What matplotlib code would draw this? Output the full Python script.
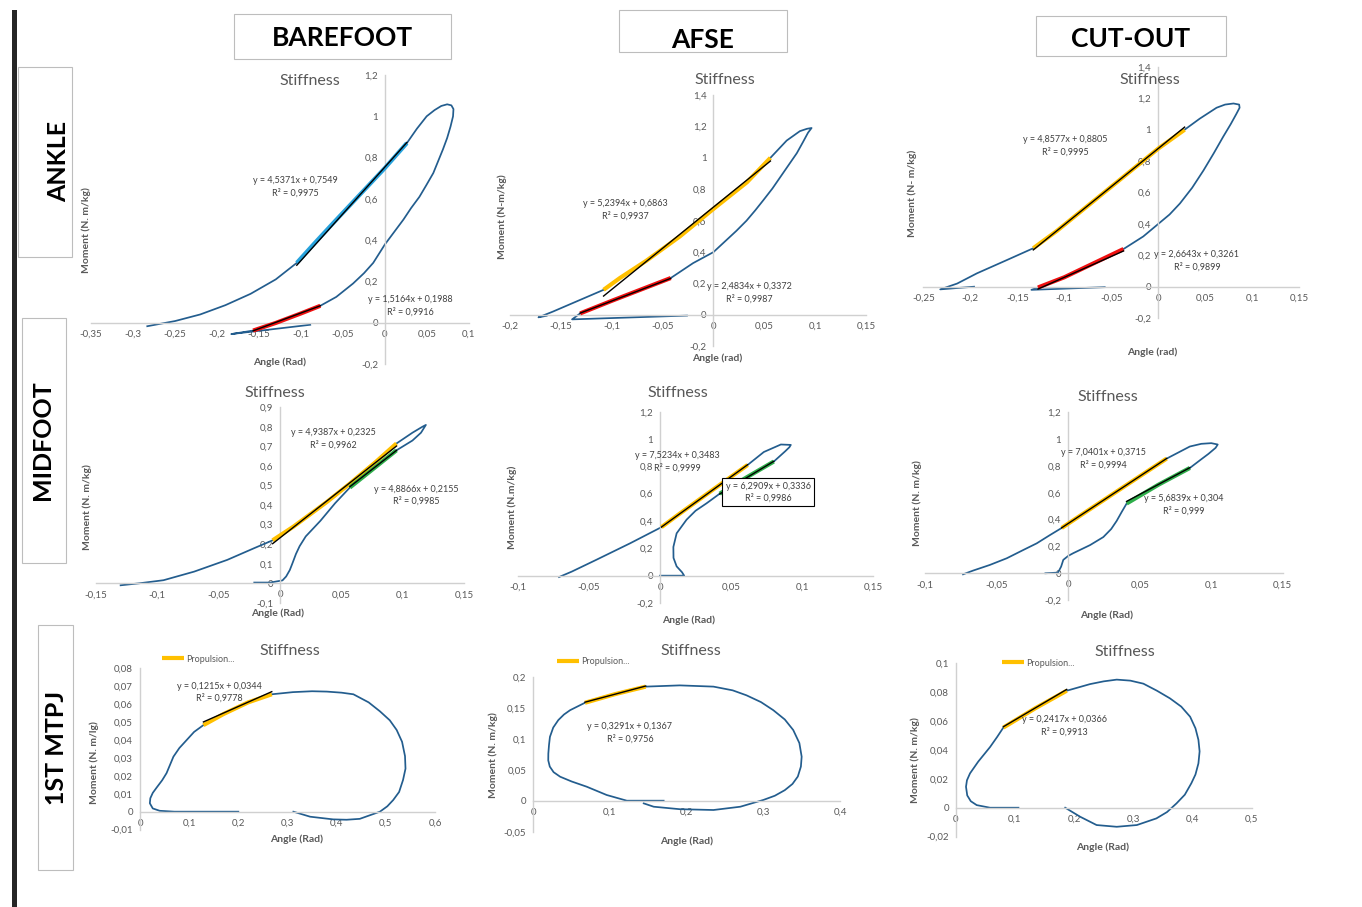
import numpy as np
import matplotlib.pyplot as plt
from matplotlib.patches import Rectangle
from matplotlib.ticker import FuncFormatter, MultipleLocator

plt.rcParams['font.family'] = ['Lato', 'DejaVu Sans']

W, H = 1362, 907

# ---- values (angle in rad, moment in N.m/kg) ----
ankle_bare_x = [-0.089, -0.183, -0.157, -0.13, -0.10, -0.077, -0.058, -0.038, -0.025, -0.014, 0.0, 0.011,
                0.022, 0.031, 0.041, 0.049, 0.0575, 0.063, 0.069, 0.074, 0.078, 0.081, 0.0815, 0.079,
                0.074, 0.067, 0.059, 0.0496, 0.038, 0.026, 0.0, -0.03, -0.06, -0.085, -0.105,
                -0.13, -0.16, -0.19, -0.22, -0.25, -0.283]
ankle_bare_y = [-0.01, -0.055, -0.038, -0.001, 0.045, 0.082, 0.125, 0.19, 0.24, 0.29, 0.38, 0.44,
                0.50, 0.555, 0.61, 0.665, 0.725, 0.78, 0.84, 0.895, 0.95, 1.0, 1.035, 1.053,
                1.058, 1.05, 1.03, 1.0, 0.94, 0.87, 0.75, 0.62, 0.49, 0.38, 0.29,
                0.21, 0.14, 0.085, 0.04, 0.008, -0.017]

ankle_afse_x = [-0.026, -0.139, -0.131, -0.10, -0.07, -0.042, -0.02, 0.0, 0.0125, 0.0225, 0.0325, 0.041,
                0.049, 0.058, 0.066, 0.074, 0.082, 0.088, 0.093, 0.0965, 0.092, 0.085, 0.072, 0.056,
                0.033, 0.0, -0.033, -0.066, -0.092, -0.108, -0.135, -0.158, -0.172, -0.164]
ankle_afse_y = [-0.004, -0.028, 0.01, 0.09, 0.165, 0.235, 0.33, 0.40, 0.475, 0.535, 0.60, 0.665,
                0.73, 0.805, 0.88, 0.955, 1.03, 1.10, 1.16, 1.19, 1.185, 1.17, 1.11, 1.0,
                0.845, 0.675, 0.50, 0.345, 0.235, 0.16, 0.085, 0.021, -0.015, -0.005]

ankle_cut_x = [-0.057, -0.135, -0.128, -0.1, -0.072, -0.037, -0.016, 0.0, 0.012, 0.023, 0.036, 0.048,
               0.059, 0.069, 0.077, 0.083, 0.0865, 0.086, 0.08, 0.071, 0.062, 0.044, 0.028, 0.0,
               -0.037, -0.072, -0.108, -0.133, -0.161, -0.193, -0.214, -0.232, -0.196]
ankle_cut_y = [-0.003, -0.02, -0.005, 0.06, 0.14, 0.24, 0.32, 0.40, 0.46, 0.53, 0.63, 0.74,
               0.85, 0.955, 1.035, 1.1, 1.14, 1.16, 1.167, 1.16, 1.14, 1.07, 1.0, 0.88,
               0.70, 0.53, 0.355, 0.245, 0.17, 0.085, 0.02, -0.017, 0.0]

mid_bare_x = [-0.13, -0.115, -0.095, -0.07, -0.043, -0.021, -0.006, 0.011, 0.038, 0.057, 0.078, 0.095,
              0.108, 0.116, 0.119, 0.115, 0.108, 0.095, 0.078, 0.057, 0.045, 0.033, 0.021, 0.016,
              0.013, 0.010, 0.008, 0.005, 0.002, -0.008, -0.021]
mid_bare_y = [-0.01, 0.0, 0.016, 0.06, 0.12, 0.18, 0.22, 0.29, 0.415, 0.51, 0.62, 0.715,
              0.77, 0.80, 0.81, 0.77, 0.73, 0.68, 0.595, 0.49, 0.41, 0.32, 0.24, 0.19,
              0.15, 0.10, 0.068, 0.035, 0.015, 0.004, 0.004]

mid_afse_x = [0.0, 0.017, 0.0155, 0.0117, 0.0095, 0.0094, 0.0117, 0.0187, 0.025, 0.0328, 0.042, 0.061,
              0.08, 0.088, 0.091, 0.092, 0.085, 0.073, 0.0616, 0.038, 0.014, 0.001, -0.021, -0.045,
              -0.062, -0.071]
mid_afse_y = [0.0, 0.0, 0.025, 0.068, 0.13, 0.21, 0.31, 0.41, 0.475, 0.53, 0.6, 0.72,
              0.835, 0.91, 0.94, 0.957, 0.96, 0.905, 0.81, 0.635, 0.455, 0.355, 0.237, 0.115,
              0.03, -0.01]

mid_cut_x = [-0.016, -0.0072, -0.005, -0.0035, 0.0, 0.0035, 0.0152, 0.0245, 0.03, 0.0338, 0.0375, 0.0408,
             0.063, 0.085, 0.093, 0.098, 0.103, 0.1045, 0.1, 0.093, 0.085, 0.0688, 0.045, 0.02,
             -0.0046, -0.0128, -0.0221, -0.0314, -0.043, -0.0549, -0.0666, -0.0736]
mid_cut_y = [0.0, 0.005, 0.05, 0.1, 0.13, 0.15, 0.21, 0.27, 0.33, 0.39, 0.46, 0.52,
             0.66, 0.785, 0.85, 0.89, 0.935, 0.96, 0.97, 0.965, 0.945, 0.855, 0.688, 0.512,
             0.338, 0.285, 0.223, 0.174, 0.112, 0.062, 0.02, -0.008]

mtpj_bare_x = [0.20, 0.12, 0.07, 0.04, 0.026, 0.02, 0.021, 0.026, 0.034, 0.045, 0.054, 0.068, 0.08,
               0.095, 0.11, 0.129, 0.17, 0.22, 0.268, 0.311, 0.35, 0.38, 0.41, 0.434, 0.465, 0.488,
               0.508, 0.522, 0.533, 0.539, 0.54, 0.535, 0.527, 0.515, 0.503, 0.488, 0.447, 0.42,
               0.393, 0.346, 0.312]
mtpj_bare_y = [0.0, 0.0, 0.0, 0.0005, 0.0018, 0.0047, 0.0075, 0.0105, 0.0135, 0.0175, 0.0215, 0.0307, 0.0355,
               0.040, 0.0445, 0.0483, 0.0545, 0.061, 0.0655, 0.0667, 0.0672, 0.067, 0.0664, 0.0655, 0.061, 0.056,
               0.051, 0.0456, 0.039, 0.031, 0.024, 0.0177, 0.011, 0.0065, 0.003, 0.0, -0.004, -0.0045,
               -0.0043, -0.0028, 0.0]

mtpj_afse_x = [0.17, 0.122, 0.0957, 0.0696, 0.05, 0.035, 0.0265, 0.0215, 0.0195, 0.0196, 0.0205, 0.0217,
               0.026, 0.0326, 0.04, 0.048, 0.0674, 0.107, 0.1466, 0.191, 0.235, 0.26, 0.278, 0.297,
               0.313, 0.328, 0.339, 0.347, 0.35, 0.349, 0.345, 0.338, 0.328, 0.315, 0.30, 0.27,
               0.235, 0.191, 0.157, 0.144]
mtpj_afse_y = [0.0, 0.0, 0.0092, 0.0226, 0.031, 0.0387, 0.046, 0.055, 0.065, 0.076, 0.09, 0.103,
               0.118, 0.130, 0.139, 0.146, 0.158, 0.172, 0.184, 0.186, 0.184, 0.178, 0.17, 0.159,
               0.146, 0.131, 0.114, 0.093, 0.071, 0.055, 0.039, 0.027, 0.017, 0.008, 0.0012, -0.0097,
               -0.015, -0.0137, -0.0097, -0.0043]

mtpj_cut_x = [0.106, 0.058, 0.0355, 0.0255, 0.0195, 0.0174, 0.019, 0.0242, 0.038, 0.058, 0.07, 0.0805,
              0.135, 0.1875, 0.227, 0.25, 0.272, 0.295, 0.317, 0.34, 0.362, 0.381, 0.396, 0.405,
              0.41, 0.412, 0.41, 0.405, 0.398, 0.387, 0.373, 0.357, 0.339, 0.306, 0.272, 0.238,
              0.21, 0.185]
mtpj_cut_y = [0.0, 0.0, 0.0018, 0.0045, 0.0085, 0.0145, 0.019, 0.0238, 0.0319, 0.042, 0.049, 0.0555,
              0.069, 0.081, 0.0856, 0.0875, 0.0887, 0.088, 0.0859, 0.081, 0.0757, 0.07, 0.063, 0.055,
              0.047, 0.039, 0.0307, 0.023, 0.0169, 0.009, 0.003, -0.003, -0.0074, -0.012, -0.0132, -0.012,
              -0.0062, 0.0]

# trendlines: slope, intercept, R^2 and the slice of the loop they were fitted on
ankle_bare_fits = [(4.5371, 0.7549, 0.9975, 29, 35), (1.5164, 0.1988, 0.9916, 2, 6)]
ankle_afse_fits = [(5.2394, 0.6863, 0.9937, 23, 30), (2.4834, 0.3372, 0.9987, 2, 6)]
ankle_cut_fits = [(4.8577, 0.8805, 0.9995, 22, 28), (2.6643, 0.3261, 0.9899, 2, 6)]
mid_bare_fits = [(4.9387, 0.2325, 0.9962, 6, 12), (4.8866, 0.2155, 0.9985, 17, 20)]
mid_afse_fits = [(7.5234, 0.3483, 0.9999, 18, 22), (6.2909, 0.3336, 0.9986, 10, 13)]
mid_cut_fits = [(7.0401, 0.3715, 0.9994, 21, 25), (5.6839, 0.304, 0.999, 11, 14)]
mtpj_bare_fits = [(0.1215, 0.0344, 0.9778, 15, 19)]
mtpj_afse_fits = [(0.3291, 0.1367, 0.9756, 16, 19)]
mtpj_cut_fits = [(0.2417, 0.0366, 0.9913, 11, 14)]

col_names = ['BAREFOOT', 'AFSE', 'CUT-OUT']
row_names = ['ANKLE', 'MIDFOOT', '1ST MTPJ']

LOOP = '#235d8e'
YEL = '#ffc000'
RED = '#f01010'
GRN = '#2eae4a'
LBLUE = '#27a2dc'
GREY = '#595959'
AXC = '#d0d0d0'

# layout of each panel (pixel boxes of the plot area, label spots)
panels = [
    dict(x=ankle_bare_x, y=ankle_bare_y, fits=ankle_bare_fits, cols=[LBLUE, RED],
         xlim=(-0.35, 0.1), ylim=(-0.2, 1.2), xs=0.05, ys=0.2, box=(91, 469, 75, 364),
         title=(310, 81), xl=('Angle (Rad)', 280, 362), yl=('Moment (N. m/kg)', 86, 230),
         eq=[(-0.107, 0.66), (0.03, 0.08)]),
    dict(x=ankle_afse_x, y=ankle_afse_y, fits=ankle_afse_fits, cols=[YEL, RED],
         xlim=(-0.2, 0.15), ylim=(-0.2, 1.4), xs=0.05, ys=0.2, box=(510, 866, 95, 346.4),
         title=(725, 80), xl=('Angle (rad)', 717, 358), yl=('Moment (N-m/kg)', 502, 217),
         eq=[(-0.087, 0.67), (0.035, 0.14)]),
    dict(x=ankle_cut_x, y=ankle_cut_y, fits=ankle_cut_fits, cols=[YEL, RED],
         xlim=(-0.25, 0.15), ylim=(-0.2, 1.4), xs=0.05, ys=0.2, box=(923.3, 1299.3, 66.9, 318.1),
         title=(1150, 80), xl=('Angle (rad)', 1152, 352), yl=('Moment (N- m/kg)', 912, 193),
         eq=[(-0.099, 0.90), (0.041, 0.166)]),
    dict(x=mid_bare_x, y=mid_bare_y, fits=mid_bare_fits, cols=[YEL, GRN],
         xlim=(-0.15, 0.15), ylim=(-0.1, 0.9), xs=0.05, ys=0.1, box=(96.1, 463.9, 407.3, 602.9),
         title=(275, 393), xl=('Angle (Rad)', 278, 613), yl=('Moment (N. m/kg)', 87, 507),
         eq=[(0.0435, 0.74), (0.111, 0.45)]),
    dict(x=mid_afse_x, y=mid_afse_y, fits=mid_afse_fits, cols=[YEL, GRN],
         xlim=(-0.1, 0.15), ylim=(-0.2, 1.2), xs=0.05, ys=0.2, box=(517.8, 873.3, 411.7, 603),
         title=(678, 393), xl=('Angle (Rad)', 689, 620), yl=('Moment (N.m/kg)', 512, 507),
         eq=[(0.0125, 0.835), (0.076, 0.61)], boxed=1),
    dict(x=mid_cut_x, y=mid_cut_y, fits=mid_cut_fits, cols=[YEL, GRN],
         xlim=(-0.1, 0.15), ylim=(-0.2, 1.2), xs=0.05, ys=0.2, box=(925.3, 1282.8, 412.3, 600.1),
         title=(1108, 397), xl=('Angle (Rad)', 1107, 615), yl=('Moment (N. m/kg)', 917, 503),
         eq=[(0.0245, 0.85), (0.0804, 0.51)]),
    dict(x=mtpj_bare_x, y=mtpj_bare_y, fits=mtpj_bare_fits, cols=[YEL],
         xlim=(0, 0.6), ylim=(-0.01, 0.08), xs=0.1, ys=0.01, box=(140, 435, 668.3, 829.6),
         title=(290, 651), xl=('Angle (Rad)', 297, 839), yl=('Moment (N. m/lg)', 94, 763),
         eq=[(0.161, 0.0666)], leg=(161.7, 659)),
    dict(x=mtpj_afse_x, y=mtpj_afse_y, fits=mtpj_afse_fits, cols=[YEL],
         xlim=(0, 0.4), ylim=(-0.05, 0.2), xs=0.1, ys=0.05, box=(533.3, 840, 676.7, 831.7),
         title=(691, 651), xl=('Angle (Rad)', 687, 841), yl=('Moment (N. m/kg)', 493, 755),
         eq=[(0.126, 0.109)], leg=(556.7, 662)),
    dict(x=mtpj_cut_x, y=mtpj_cut_y, fits=mtpj_cut_fits, cols=[YEL],
         xlim=(0, 0.5), ylim=(-0.02, 0.1), xs=0.1, ys=0.02, box=(955.7, 1251.7, 663.3, 836.6),
         title=(1125, 652), xl=('Angle (Rad)', 1103, 847), yl=('Moment (N. m/kg)', 915, 760),
         eq=[(0.183, 0.0566)], leg=(1001.7, 663)),
]


def comma(v, pos=None):
    s = f"{round(v, 6):g}"
    if s == '-0':
        s = '0'
    return s.replace('.', ',')


def fx(px):
    return px / W


def fy(py):
    return 1 - py / H


fig = plt.figure(figsize=(W / 100, H / 100), dpi=100)
fig.patch.set_facecolor('white')

for p in panels:
    x0, x1, yt, yb = p['box']
    ax = fig.add_axes([fx(x0), fy(yb), (x1 - x0) / W, (yb - yt) / H])
    ax.patch.set_visible(False)
    ax.set_xlim(*p['xlim'])
    ax.set_ylim(*p['ylim'])
    for s in ['top', 'right']:
        ax.spines[s].set_visible(False)
    for s in ['left', 'bottom']:
        ax.spines[s].set_position(('data', 0))
        ax.spines[s].set_color(AXC)
        ax.spines[s].set_linewidth(1.0)
    ax.xaxis.set_major_locator(MultipleLocator(p['xs']))
    ax.yaxis.set_major_locator(MultipleLocator(p['ys']))
    ax.xaxis.set_major_formatter(FuncFormatter(comma))
    ax.yaxis.set_major_formatter(FuncFormatter(comma))
    ax.tick_params(length=0, labelsize=7, labelcolor=GREY, pad=5)

    lx = np.array(p['x'])
    ly = np.array(p['y'])
    ax.plot(lx, ly, color=LOOP, lw=1.25, clip_on=False, zorder=2, solid_joinstyle='round')

    hl_lines = []
    for (m, b, r2, i0, i1), c in zip(p['fits'], p['cols']):
        h, = ax.plot(lx[i0:i1], ly[i0:i1], color=c, lw=3.0, solid_capstyle='butt',
                     clip_on=False, zorder=3)
        hl_lines.append(h)
        xx = np.array([lx[i0:i1].min(), lx[i0:i1].max()])
        ax.plot(xx, m * xx + b, color='black', lw=1.0, clip_on=False, zorder=4)

    for k, ((m, b, r2, i0, i1), (ex, ey)) in enumerate(zip(p['fits'], p['eq'])):
        txt = f"y = {comma(m)}x + {comma(b)}\nR² = {comma(r2)}"
        kw = {}
        if p.get('boxed') and k == 1:
            kw['bbox'] = dict(boxstyle='square,pad=0.35', fc='white', ec='black', lw=0.8)
        ax.text(ex, ey, txt, ha='center', va='center', fontsize=6.5, color='#404040',
                linespacing=1.45, zorder=5, **kw)

    if 'leg' in p:
        ax.legend([hl_lines[0]], ['Propulsion...'], loc='center left',
                  bbox_to_anchor=(fx(p['leg'][0]), fy(p['leg'][1])),
                  bbox_transform=fig.transFigure, frameon=False, fontsize=6.5,
                  handlelength=2.5, handletextpad=0.2, borderpad=0, borderaxespad=0,
                  labelcolor=GREY)

    fig.text(fx(p['title'][0]), fy(p['title'][1]), 'Stiffness', ha='center', va='center',
             fontsize=11.5, color=GREY)
    t, tx, ty = p['xl']
    fig.text(fx(tx), fy(ty), t, ha='center', va='center', fontsize=7.5, color=GREY,
             fontweight='bold')
    t, tx, ty = p['yl']
    fig.text(fx(tx), fy(ty), t, ha='center', va='center', fontsize=7.5, color=GREY,
             fontweight='bold', rotation=90)

# frame pieces: black bar, column and row header boxes
fig.patches.append(Rectangle((fx(12), 0), 5 / W, fy(10), transform=fig.transFigure,
                             fc='#262626', ec='none'))

col_boxes = [(234, 451, 14, 59), (619, 787, 10, 52), (1036, 1226, 16, 56)]
col_text = [(342, 38), (703, 40), (1131, 39)]
for name, (a, b, c, d), (tx, ty) in zip(col_names, col_boxes, col_text):
    fig.patches.append(Rectangle((fx(a), fy(d)), (b - a) / W, (d - c) / H,
                                 transform=fig.transFigure, fc='white', ec='#bdbdbd', lw=0.8))
    fig.text(fx(tx), fy(ty), name, ha='center', va='center', fontsize=19, fontweight='bold',
             color='black')

row_boxes = [(18, 72, 67, 257), (22, 66, 318, 563), (38, 73, 625, 870)]
row_text = [(59, 161), (43, 440), (57, 748)]
for name, (a, b, c, d), (tx, ty) in zip(row_names, row_boxes, row_text):
    fig.patches.append(Rectangle((fx(a), fy(d)), (b - a) / W, (d - c) / H,
                                 transform=fig.transFigure, fc='none', ec='#bdbdbd', lw=0.8))
    fig.text(fx(tx), fy(ty), name, ha='center', va='center', fontsize=18, fontweight='bold',
             color='black', rotation=90)

fig.savefig('out.png', dpi=100, facecolor='white')
